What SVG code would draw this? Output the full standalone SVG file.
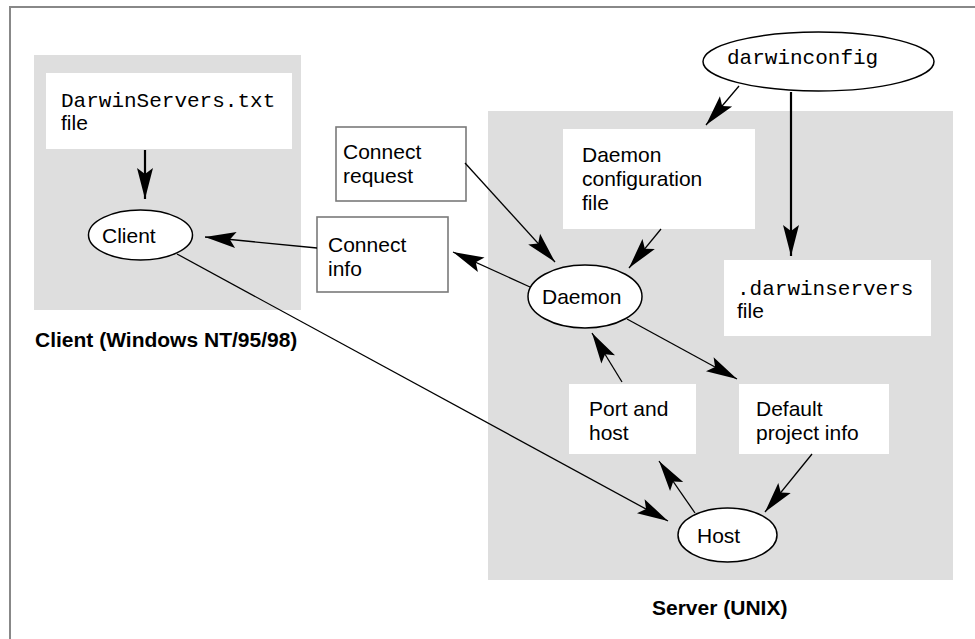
<svg xmlns="http://www.w3.org/2000/svg" width="975" height="639" viewBox="0 0 975 639">
<style>
.sans{font-family:"Liberation Sans",Arial,sans-serif;font-size:21px;fill:#000}
.mono{font-family:"Liberation Mono","Courier New",monospace;font-size:21px;fill:#000}
.bold{font-family:"Liberation Sans",Arial,sans-serif;font-size:21px;font-weight:bold;fill:#000}
.panel{fill:#dedede;stroke:none}
.wbox{fill:#fff;stroke:none}
.gbox{fill:#fff;stroke:#7a7a7a;stroke-width:1.6}
.ell{fill:#fff;stroke:#000;stroke-width:1.5}
.con{stroke:#000;stroke-width:1.3;fill:none;marker-end:url(#ah)}
.con2{stroke:#000;stroke-width:2.2;fill:none;marker-end:url(#ah)}
</style>
<defs>
<marker id="ah" markerUnits="userSpaceOnUse" markerWidth="34" markerHeight="18" viewBox="0 -9 34 18" refX="31" refY="0" orient="auto">
<path d="M0,-8 L31,0 L0,8 L6,0 z" fill="#000"/>
</marker>
</defs>
<rect x="10" y="7" width="1000" height="700" fill="none" stroke="#888" stroke-width="2"/>
<g id="client-panel">
<rect class="panel" x="34" y="55" width="267" height="255"/>
<text class="bold" x="35" y="347">Client (Windows NT/95/98)</text>
</g>
<g id="server-panel">
<rect class="panel" x="488" y="111" width="465" height="469"/>
<text class="bold" x="652" y="615">Server (UNIX)</text>
</g>
<g id="darwinservers-txt">
<rect class="wbox" x="46" y="73" width="246" height="76"/>
<text class="mono" x="61" y="107">DarwinServers.txt</text>
<text class="sans" x="61" y="130">file</text>
</g>
<g id="client">
<ellipse class="ell" cx="140.5" cy="235" rx="52" ry="25"/>
<text class="sans" x="102" y="243">Client</text>
</g>
<g id="connect-request">
<rect class="gbox" x="336" y="127" width="130" height="74"/>
<text class="sans" x="343" y="159">Connect</text>
<text class="sans" x="343" y="183">request</text>
</g>
<g id="connect-info">
<rect class="gbox" x="317" y="217" width="131" height="75"/>
<text class="sans" x="328" y="252">Connect</text>
<text class="sans" x="328" y="276">info</text>
</g>
<g id="darwinconfig">
<ellipse class="ell" cx="818.5" cy="61.5" rx="115.5" ry="29.5"/>
<text class="mono" x="727" y="64">darwinconfig</text>
</g>
<g id="daemon-config">
<rect class="wbox" x="563" y="129" width="192" height="100"/>
<text class="sans" x="582" y="162">Daemon</text>
<text class="sans" x="582" y="186">configuration</text>
<text class="sans" x="582" y="210">file</text>
</g>
<g id="darwinservers-file">
<rect class="wbox" x="724" y="260" width="207" height="76"/>
<text class="mono" x="737" y="295">.darwinservers</text>
<text class="sans" x="737" y="318">file</text>
</g>
<g id="daemon">
<ellipse class="ell" cx="585" cy="296.5" rx="57" ry="31.5"/>
<text class="sans" x="542" y="304">Daemon</text>
</g>
<g id="port-and-host">
<rect class="wbox" x="569" y="384" width="127" height="70"/>
<text class="sans" x="589" y="416">Port and</text>
<text class="sans" x="589" y="440">host</text>
</g>
<g id="default-project-info">
<rect class="wbox" x="739" y="384" width="150" height="70"/>
<text class="sans" x="756" y="416">Default</text>
<text class="sans" x="756" y="440">project info</text>
</g>
<g id="host">
<ellipse class="ell" cx="727.5" cy="535" rx="49.5" ry="27"/>
<text class="sans" x="697" y="543">Host</text>
</g>
<g id="connectors">
<line class="con2" x1="145" y1="150" x2="145" y2="199"/>
<line class="con" x1="317" y1="248" x2="205" y2="237"/>
<line class="con" x1="465" y1="163" x2="555" y2="262"/>
<line class="con" x1="661" y1="229" x2="629" y2="268"/>
<line class="con" x1="530" y1="287" x2="453" y2="252"/>
<line class="con" x1="739" y1="86" x2="706" y2="125"/>
<line class="con2" x1="791" y1="92" x2="791" y2="256"/>
<line class="con" x1="622" y1="382" x2="592" y2="333"/>
<line class="con" x1="627" y1="319" x2="737" y2="379"/>
<line class="con" x1="695" y1="513" x2="659" y2="461"/>
<line class="con" x1="812" y1="454" x2="765" y2="512"/>
<line class="con" x1="177" y1="254" x2="668" y2="521"/>
</g>
</svg>
